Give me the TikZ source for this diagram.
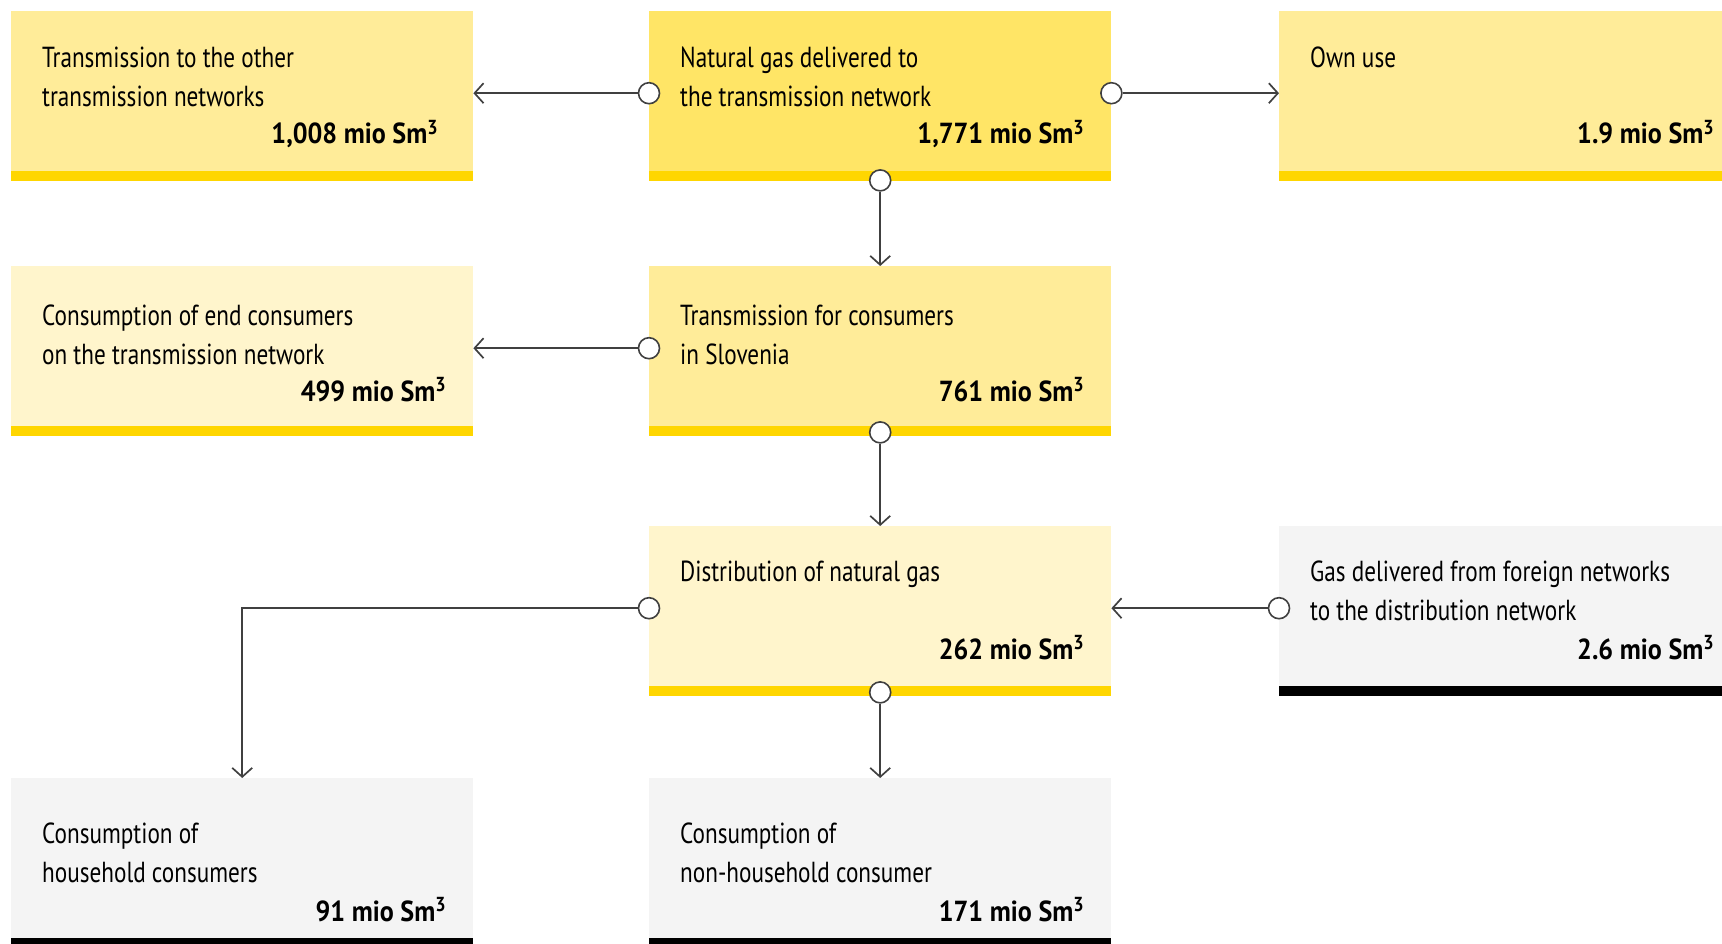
\documentclass[tikz,border=0pt]{standalone}
\usepackage{fontspec}
\setmainfont[FakeStretch=0.8,BoldFeatures={FakeStretch=0.9}]{PT Sans}
\usetikzlibrary{arrows.meta,calc}

\definecolor{deepyellow}{RGB}{255,229,102}
\definecolor{midyellow}{RGB}{255,236,153}
\definecolor{paleyellow}{RGB}{255,245,204}
\definecolor{boxgray}{RGB}{244,244,244}
\definecolor{baryellow}{RGB}{255,214,0}
\definecolor{linegray}{RGB}{64,64,64}

\begin{document}
\begin{tikzpicture}[x=1pt,y=-1pt,
    gasbox/.style={rectangle,inner sep=0,minimum width=462pt,minimum height=170pt,anchor=north west},
    ybar/.style={path picture={\fill[baryellow] ([yshift=10pt]path picture bounding box.south west) rectangle (path picture bounding box.south east);}},
    kbar/.style={path picture={\fill[black] ([yshift=10pt]path picture bounding box.south west) rectangle (path picture bounding box.south east);}},
    boxtext/.style={anchor=base west,align=left,inner sep=0,font=\fontsize{29}{39}\selectfont},
    twolines/.style={boxtext,yshift=-39pt},
    boxval/.style={anchor=base east,inner sep=0,font=\fontsize{29}{39}\selectfont\bfseries},
    port/.style={circle,draw=linegray,fill=white,line width=1.6pt,minimum size=21pt,inner sep=0},
    flow/.style={draw=linegray,line width=1.7pt,-{Straight Barb[length=9pt,width=20pt]}}]

  \useasboundingbox (0,0) rectangle (1722,944);
  \clip (0,0) rectangle (1722,944);

  %%%% Boxes %%%%
  %% first row
  \node[gasbox,ybar,fill=midyellow]  (other)     at (11,11)    {};
  \node[gasbox,ybar,fill=deepyellow] (delivered) at (649,11)   {};
  \node[gasbox,ybar,fill=midyellow]  (ownuse)    at (1279,11)  {};
  %% second row
  \node[gasbox,ybar,fill=paleyellow] (endcons)   at (11,266)   {};
  \node[gasbox,ybar,fill=midyellow]  (slovenia)  at (649,266)  {};
  %% third row
  \node[gasbox,ybar,fill=paleyellow] (distrib)   at (649,526)  {};
  \node[gasbox,kbar,fill=boxgray]    (foreign)   at (1279,526) {};
  %% fourth row
  \node[gasbox,kbar,fill=boxgray]    (household) at (11,778)   {};
  \node[gasbox,kbar,fill=boxgray]    (nonhouse)  at (649,778)  {};

  %%%% Texts and quantities %%%%
  \node[twolines] (other-t)     at ([xshift=31pt,yshift=-57pt]other.north west)     {Transmission to the other\\transmission networks};
  \node[boxval]   (other-v)     at ([xshift=-35pt,yshift=-133pt]other.north east)   {1,008 mio Sm\textsuperscript{3}};
  \node[twolines] (delivered-t) at ([xshift=31pt,yshift=-57pt]delivered.north west) {Natural gas delivered to\\the transmission network};
  \node[boxval]   (delivered-v) at ([xshift=-27pt,yshift=-133pt]delivered.north east) {1,771 mio Sm\textsuperscript{3}};
  \node[boxtext]  (ownuse-t)    at ([xshift=31pt,yshift=-57pt]ownuse.north west)    {Own use};
  \node[boxval]   (ownuse-v)    at ([xshift=-27pt,yshift=-133pt]ownuse.north east)  {1.9 mio Sm\textsuperscript{3}};

  \node[twolines] (endcons-t)   at ([xshift=31pt,yshift=-59pt]endcons.north west)   {Consumption of end consumers\\on the transmission network};
  \node[boxval]   (endcons-v)   at ([xshift=-27pt,yshift=-135pt]endcons.north east) {499 mio Sm\textsuperscript{3}};
  \node[twolines] (slovenia-t)  at ([xshift=31pt,yshift=-59pt]slovenia.north west)  {Transmission for consumers\\in Slovenia};
  \node[boxval]   (slovenia-v)  at ([xshift=-27pt,yshift=-135pt]slovenia.north east) {761 mio Sm\textsuperscript{3}};

  \node[boxtext]  (distrib-t)   at ([xshift=31pt,yshift=-55pt]distrib.north west)   {Distribution of natural gas};
  \node[boxval]   (distrib-v)   at ([xshift=-27pt,yshift=-133pt]distrib.north east) {262 mio Sm\textsuperscript{3}};
  \node[twolines] (foreign-t)   at ([xshift=31pt,yshift=-55pt]foreign.north west)   {Gas delivered from foreign networks\\to the distribution network};
  \node[boxval]   (foreign-v)   at ([xshift=-27pt,yshift=-133pt]foreign.north east) {2.6 mio Sm\textsuperscript{3}};

  \node[twolines] (household-t) at ([xshift=31pt,yshift=-65pt]household.north west) {Consumption of\\household consumers};
  \node[boxval]   (household-v) at ([xshift=-27pt,yshift=-143pt]household.north east) {91 mio Sm\textsuperscript{3}};
  \node[twolines] (nonhouse-t)  at ([xshift=31pt,yshift=-65pt]nonhouse.north west)  {Consumption of\\non-household consumer};
  \node[boxval]   (nonhouse-v)  at ([xshift=-27pt,yshift=-143pt]nonhouse.north east) {171 mio Sm\textsuperscript{3}};

  %%%% Ports %%%%
  \node[port] (delivered-w) at ([yshift=3pt]delivered.west)  {};
  \node[port] (delivered-e) at ([yshift=3pt]delivered.east)  {};
  \node[port] (delivered-s) at ([yshift=1pt]delivered.south) {};
  \node[port] (slovenia-w)  at ([yshift=3pt]slovenia.west)   {};
  \node[port] (slovenia-s)  at ([yshift=4pt]slovenia.south)  {};
  \node[port] (distrib-w)   at ([yshift=3pt]distrib.west)    {};
  \node[port] (distrib-s)   at ([yshift=4pt]distrib.south)   {};
  \node[port] (foreign-w)   at ([yshift=3pt]foreign.west)    {};

  %%%% Flows %%%%
  \draw[flow] (delivered-w) -- (other.east |- delivered-w);
  \draw[flow] (delivered-e) -- (ownuse.west |- delivered-e);
  \draw[flow] (delivered-s) -- (slovenia.north);
  \draw[flow] (slovenia-w)  -- (endcons.east |- slovenia-w);
  \draw[flow] (slovenia-s)  -- (distrib.north);
  \draw[flow] (distrib-w)   -| (household.north);
  \draw[flow] (distrib-s)   -- (nonhouse.north);
  \draw[flow] (foreign-w)   -- (distrib.east |- foreign-w);

\end{tikzpicture}
\end{document}
